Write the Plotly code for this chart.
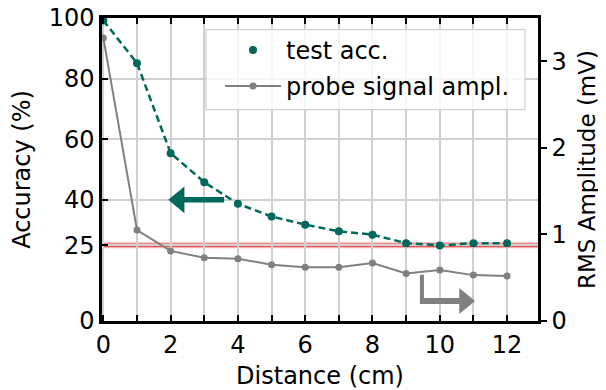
import plotly.graph_objects as go

# ---- data ----
distance_cm = [0, 1, 2, 3, 4, 5, 6, 7, 8, 9, 10, 11, 12]
test_acc = [99.2, 85.1, 55.4, 45.8, 38.7, 34.5, 31.8, 29.6, 28.5, 25.7, 24.9, 25.7, 25.7]
probe_rms_mv = [3.27, 1.05, 0.81, 0.73, 0.72, 0.65, 0.62, 0.62, 0.67, 0.55, 0.59, 0.53, 0.52]
chance_level = 25
x_tick_vals = list(range(0, 13))
x_tick_text = [str(v) if v % 2 == 0 else "" for v in x_tick_vals]
acc_tick_vals = [0, 25, 40, 60, 80, 100]
rms_tick_vals = [0, 1, 2, 3]

TEAL = "#00695c"
GRAY = "#808080"
FONT = "DejaVu Sans"

# page has an 8px body margin; figure is sized so the plot lands where the reference has it
OFF = 8
W, H = 606 - OFF, 390 - OFF

fig = go.Figure()

# dashed connecting line (no legend entry)
fig.add_trace(go.Scatter(x=distance_cm, y=test_acc, mode="lines",
                         line=dict(color=TEAL, width=2.5, dash="7px,4px"),
                         showlegend=False, hoverinfo="skip"))
fig.add_trace(go.Scatter(x=distance_cm, y=test_acc, mode="markers", name="test acc.",
                         marker=dict(color=TEAL, size=8), legend="legend"))
fig.add_trace(go.Scatter(x=distance_cm, y=probe_rms_mv, mode="lines+markers",
                         name="probe signal ampl.", yaxis="y2",
                         line=dict(color=GRAY, width=2), marker=dict(color=GRAY, size=7),
                         legend="legend2"))

# chance level line (below grid)
for col, w in [("rgba(245,120,120,0.6)", 6), ("#e03a3a", 3.2), ("#2a1010", 1.2)]:
    fig.add_shape(type="line", xref="paper", yref="y", x0=0, x1=1, y0=chance_level,
                  y1=chance_level, line=dict(color=col, width=w), layer="below")

# arrows (annotation glyphs)
teal_arrow = "M 3.59 40.9 L 2.41 40.9 L 2.41 44.4 L 1.93 40 L 2.41 35.6 L 2.41 39.1 L 3.59 39.1 Z"
fig.add_shape(type="path", xref="x", yref="y", path=teal_arrow,
              fillcolor=TEAL, line=dict(width=0), layer="above")
gray_arrow = ("M 9.41 15.3 L 9.53 15.3 L 9.53 7.6 L 10.58 7.6 L 10.58 10.9 L 11.05 6.6 "
              "L 10.58 2.3 L 10.58 5.6 L 9.41 5.6 Z")
fig.add_shape(type="path", xref="x", yref="y", path=gray_arrow,
              fillcolor=GRAY, line=dict(width=0), layer="above")

# legend frame (positions in screen pixels -> paper)
L, R, T, B = 102, 538, 18.3, 321.3
def px2paper_x(p):
    return (p - L) / (R - L)
def px2paper_y(p):
    return (B - p) / (B - T)
fig.add_shape(type="rect", xref="paper", yref="paper",
              x0=px2paper_x(206), x1=px2paper_x(525), y0=px2paper_y(110), y1=px2paper_y(30),
              fillcolor="rgba(255,255,255,0.8)", line=dict(color="#d0d0d0", width=1.2),
              layer="above")

axis_common = dict(showline=True, linecolor="black", linewidth=2.5,
                   ticks="inside", ticklen=6, tickwidth=2, tickcolor="black",
                   zeroline=False, automargin=False, ticklabeloverflow="allow",
                   tickfont=dict(size=24, color="black", family=FONT))

fig.update_layout(
    width=W, height=H,
    margin=dict(l=L - OFF, r=606 - R, t=T - OFF, b=390 - B, autoexpand=False),
    paper_bgcolor="white", plot_bgcolor="white",
    font=dict(family=FONT, size=24, color="black"),
    xaxis=dict(range=[-0.04, 12.92], tickvals=x_tick_vals, ticktext=x_tick_text,
               mirror="ticks", showgrid=True, gridcolor="#d0d0d0", gridwidth=1.5,
               title=dict(text="Distance (cm)", font=dict(size=24), standoff=12),
               **axis_common),
    yaxis=dict(range=[0, 100], tickvals=acc_tick_vals, showgrid=True,
               gridcolor="#d0d0d0", gridwidth=1.5,
               title=dict(text="Accuracy (%)", font=dict(size=24), standoff=15),
               **axis_common),
    yaxis2=dict(range=[0, 3.5], tickvals=rms_tick_vals, overlaying="y", side="right",
                showline=True, linecolor="black", linewidth=2.5, ticks="outside",
                ticklen=6, tickwidth=2, tickcolor="black", showgrid=False, zeroline=False,
                automargin=False, ticklabeloverflow="allow",
                tickfont=dict(size=24, color="black", family=FONT),
                title=dict(text="RMS Amplitude (mV)", font=dict(size=23), standoff=14)),
    legend=dict(x=px2paper_x(220), xanchor="left", y=px2paper_y(50.7), yanchor="middle",
                bgcolor="rgba(0,0,0,0)", borderwidth=0, font=dict(size=24),
                itemwidth=56),
    legend2=dict(x=px2paper_x(220), xanchor="left", y=px2paper_y(86.7), yanchor="middle",
                 bgcolor="rgba(0,0,0,0)", borderwidth=0, font=dict(size=24),
                 itemwidth=56),
)

fig.write_html("out.html")
